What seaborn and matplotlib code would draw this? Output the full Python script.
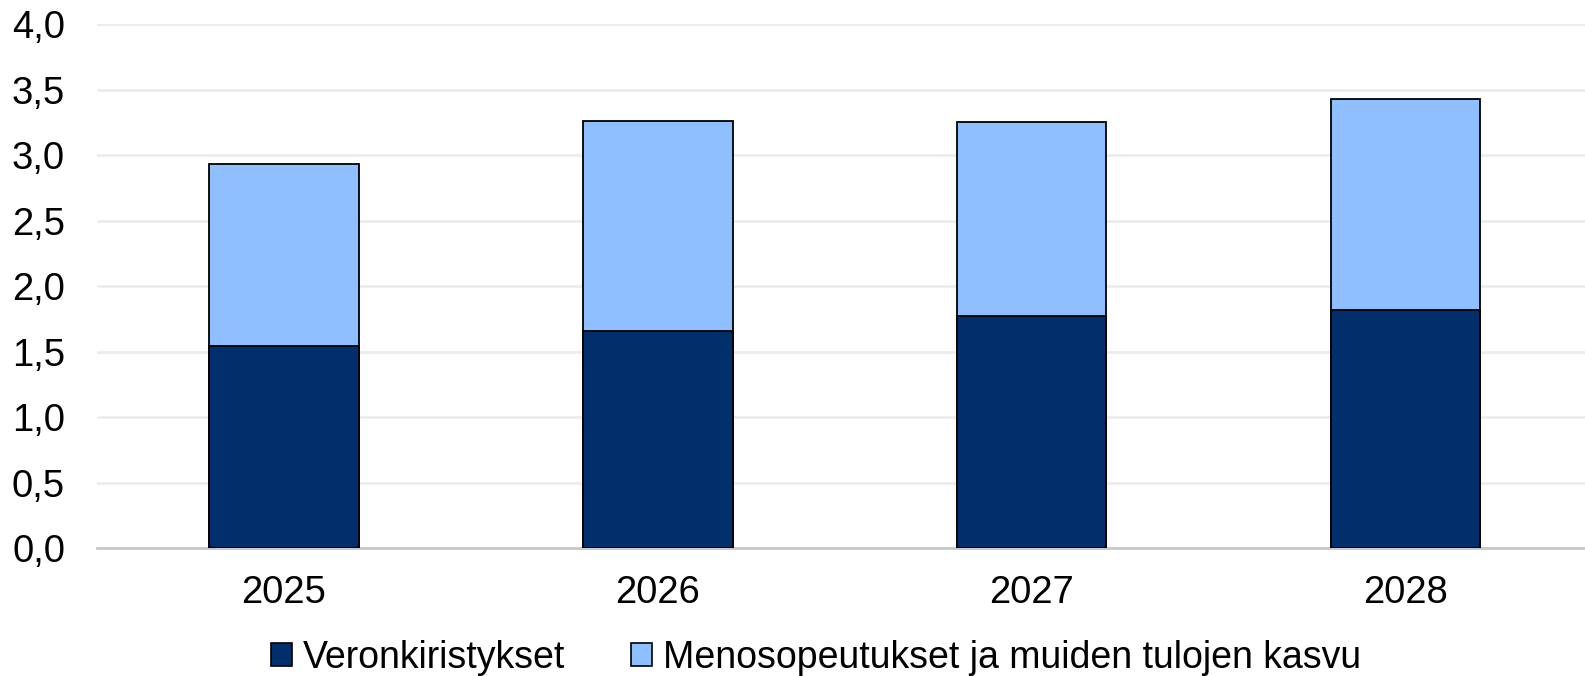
import matplotlib
matplotlib.use("Agg")
import matplotlib.pyplot as plt
import seaborn as sns
import pandas as pd
from matplotlib.patches import Patch

# data
years = ["2025", "2026", "2027", "2028"]
veron = [1.54, 1.66, 1.77, 1.82]
meno = [1.39, 1.60, 1.48, 1.61]
labels = ["Veronkiristykset", "Menosopeutukset ja muiden tulojen kasvu"]
yticks = [0.0, 0.5, 1.0, 1.5, 2.0, 2.5, 3.0, 3.5, 4.0]

dark = "#002f6c"
light = "#8fbfff"

sns.set_style("white")
plt.rcParams["font.family"] = ["Liberation Sans", "DejaVu Sans"]
plt.rcParams["text.color"] = "black"

df = pd.DataFrame({"year": years, "veron": veron, "meno": meno})
df["total"] = df["veron"] + df["meno"]

fig = plt.figure(figsize=(15.85, 6.76), dpi=100)
ax = fig.add_axes([0.0612, 0.189, 0.9388, 0.7755])

sns.barplot(data=df, x="year", y="total", color=light, width=0.4,
            edgecolor="black", linewidth=1.3, saturation=1, ax=ax, zorder=3)
sns.barplot(data=df, x="year", y="veron", color=dark, width=0.4,
            edgecolor="black", linewidth=1.3, saturation=1, ax=ax, zorder=4)

ax.set_ylim(0, 4.0)
ax.set_xlim(-0.5, 3.48)
ax.set_yticks(yticks)
ax.set_yticklabels([f"{t:.1f}".replace(".", ",") for t in yticks])
ax.yaxis.grid(True, color="#ececec", linewidth=2, zorder=0)
ax.set_axisbelow(True)
ax.set_xlabel("")
ax.set_ylabel("")
for s in ["top", "right", "left"]:
    ax.spines[s].set_visible(False)
ax.spines["bottom"].set_color("#c8c8c8")
ax.spines["bottom"].set_linewidth(2)
ax.tick_params(axis="both", length=0, labelsize=27.5, colors="black")
ax.tick_params(axis="x", pad=19)
ax.tick_params(axis="y", pad=23)

handles = [Patch(facecolor=dark, edgecolor="black", linewidth=1.2),
           Patch(facecolor=light, edgecolor="black", linewidth=1.2)]
fig.legend(handles, labels, loc="lower center", bbox_to_anchor=(0.515, -0.05),
           ncol=2, frameon=False, fontsize=27, handlelength=0.55,
           handleheight=0.55, handletextpad=0.3, columnspacing=1.75)

fig.savefig("out.png", dpi=100)
